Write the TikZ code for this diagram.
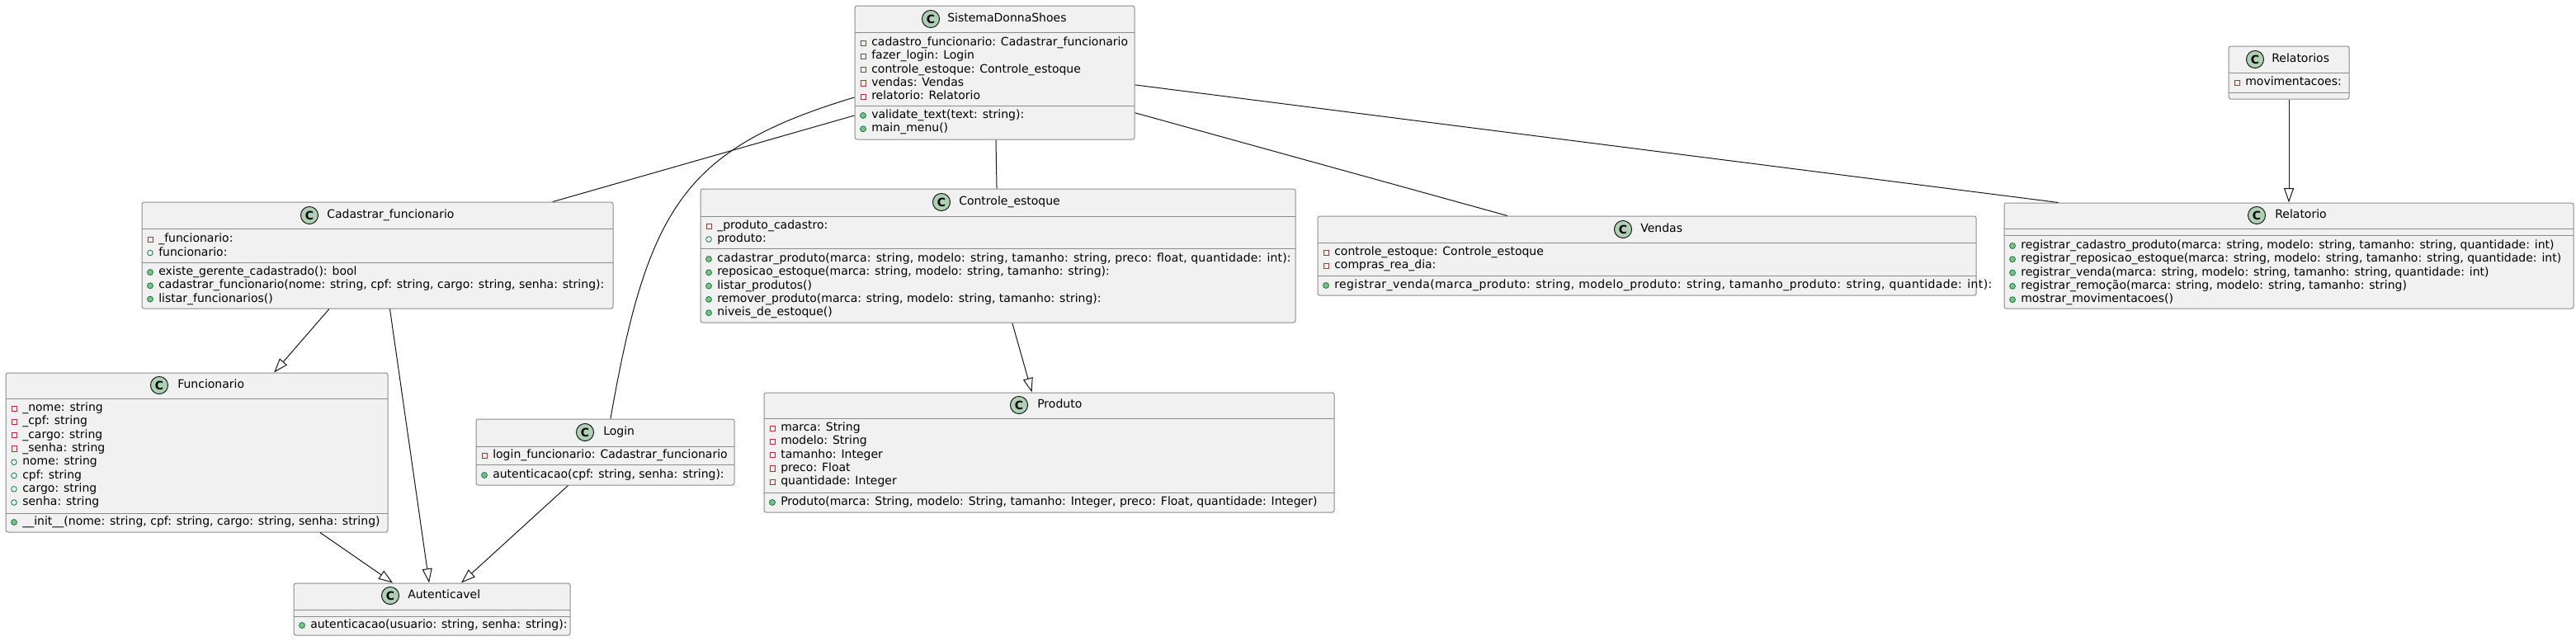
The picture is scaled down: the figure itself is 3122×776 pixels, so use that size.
\documentclass[tikz,border=0pt]{standalone}
\usepackage{fontspec}
\setmainfont{DejaVu Sans}
\usepackage{tikz}
\usetikzlibrary{arrows.meta,fit}

\definecolor{boxfill}{HTML}{F1F1F1}
\definecolor{boxline}{HTML}{8C8C8C}
\definecolor{wirecol}{HTML}{181818}
\definecolor{privred}{HTML}{C82930}
\definecolor{pubgreen}{HTML}{038048}
\definecolor{opgreen}{HTML}{84BE84}
\definecolor{iconfill}{HTML}{ADD1B2}

\begin{document}
\begin{tikzpicture}[x=0.75pt,y=-0.75pt,
  classbox/.style={draw=boxline,fill=boxfill,line width=0.75pt,rounded corners=2pt,inner sep=0pt},
  divider/.style={draw=boxline,line width=0.75pt},
  member/.style={anchor=west,inner sep=0pt,font=\fontsize{10.5pt}{12pt}\selectfont,text height=8pt,text depth=2.5pt},
  wire/.style={draw=wirecol,line width=0.75pt},
  inherit/.style={wire,-{Triangle[length=13pt,width=9pt,fill=white]}},
  pics/pvt/.style={code={\draw[privred,line width=0.6pt] (-2.3pt,-2.3pt) rectangle (2.3pt,2.3pt);}},
  pics/pubattr/.style={code={\draw[pubgreen,line width=0.6pt] (0,0) circle[radius=2.5pt];}},
  pics/pubop/.style={code={\draw[pubgreen,fill=opgreen,line width=0.6pt] (0,0) circle[radius=2.6pt];}},
  pics/cicon/.style={code={\draw[wirecol,fill=iconfill,line width=0.75pt] (0,0) circle[radius=7.9pt];
    \node[inner sep=0pt,font=\bfseries\fontsize{10.5pt}{12pt}\selectfont] (-c) {C};}}]
  \fill[white] (0,0) rectangle (3122,776);
  \useasboundingbox (0,0) rectangle (3122,776);

  % SistemaDonnaShoes
  \node[classbox,fit={(1036,7) (1375,169)}] (sistema) {};
  \pic (sistema-ic) at (1128,23) {cicon};
  \node[member] (sistema-t) at (1148,23) {SistemaDonnaShoes};
  \draw[divider] (1036,39) -- (1375,39);
  \draw[divider] (1036,128) -- (1375,128);
  \foreach \txt [count=\i] in {{cadastro\_funcionario: Cadastrar\_funcionario},{fazer\_login: Login},
      {controle\_estoque: Controle\_estoque},{vendas: Vendas},{relatorio: Relatorio}}
    {\pic at (1046,{52+16.3*(\i-1)}) {pvt};
     \node[member] (sistema-a\i) at (1056,{52+16.3*(\i-1)}) {\txt};}
  \foreach \txt [count=\i] in {{validate\_text(text: string):},{main\_menu()}}
    {\pic at (1046,{140+16.3*(\i-1)}) {pubop};
     \node[member] (sistema-m\i) at (1056,{140+16.3*(\i-1)}) {\txt};}

  % Relatorios
  \node[classbox,fit={(2701,56) (2847,120)}] (relatorios) {};
  \pic (relatorios-ic) at (2733,72) {cicon};
  \node[member] (relatorios-t) at (2753,72) {Relatorios};
  \draw[divider] (2701,88) -- (2847,88);
  \draw[divider] (2701,112) -- (2847,112);
  \pic at (2711,100) {pvt};
  \node[member] (relatorios-a1) at (2721,100) {movimentacoes:};

  % Relatorio
  \node[classbox,fit={(2429,246) (3119,374)}] (relatorio) {};
  \pic (relatorio-ic) at (2735,261) {cicon};
  \node[member] (relatorio-t) at (2757,261) {Relatorio};
  \draw[divider] (2429,277) -- (3119,277);
  \draw[divider] (2429,285) -- (3119,285);
  \foreach \txt [count=\i] in {{registrar\_cadastro\_produto(marca: string, modelo: string, tamanho: string, quantidade: int)},
      {registrar\_reposicao\_estoque(marca: string, modelo: string, tamanho: string, quantidade: int)},
      {registrar\_venda(marca: string, modelo: string, tamanho: string, quantidade: int)},
      {registrar\_remoção(marca: string, modelo: string, tamanho: string)},
      {mostrar\_movimentacoes()}}
    {\pic at (2439,{298+16.3*(\i-1)}) {pubop};
     \node[member] (relatorio-m\i) at (2449,{298+16.3*(\i-1)}) {\txt};}

  % Cadastrar_funcionario
  \node[classbox,fit={(172,245) (743,374)}] (cadastrar) {};
  \pic (cadastrar-ic) at (375,261) {cicon};
  \node[member] (cadastrar-t) at (396,261) {Cadastrar\_funcionario};
  \draw[divider] (172,277) -- (743,277);
  \draw[divider] (172,318) -- (743,318);
  \pic at (182,290) {pvt};
  \node[member] (cadastrar-a1) at (192,290) {\_funcionario:};
  \pic at (182,306.5) {pubattr};
  \node[member] (cadastrar-a2) at (192,306.5) {funcionario:};
  \foreach \txt [count=\i] in {{existe\_gerente\_cadastrado(): bool},
      {cadastrar\_funcionario(nome: string, cpf: string, cargo: string, senha: string):},
      {listar\_funcionarios()}}
    {\pic at (182,{330+16.3*(\i-1)}) {pubop};
     \node[member] (cadastrar-m\i) at (192,{330+16.3*(\i-1)}) {\txt};}

  % Controle_estoque
  \node[classbox,fit={(849,229) (1570,391)}] (controle) {};
  \pic (controle-ic) at (1141,245) {cicon};
  \node[member] (controle-t) at (1162,245) {Controle\_estoque};
  \draw[divider] (849,262) -- (1570,262);
  \draw[divider] (849,301) -- (1570,301);
  \pic at (859,274) {pvt};
  \node[member] (controle-a1) at (869,274) {\_produto\_cadastro:};
  \pic at (859,290) {pubattr};
  \node[member] (controle-a2) at (869,290) {produto:};
  \pic at (859,314) {pubop};
  \node[member] (controle-m1) at (869,314) {\addfontfeature{LetterSpace=1.2}cadastrar\_produto(marca: string, modelo: string, tamanho: string, preco: float, quantidade: int):};
  \foreach \txt [count=\i from 2] in {{reposicao\_estoque(marca: string, modelo: string, tamanho: string):},
      {listar\_produtos()},
      {remover\_produto(marca: string, modelo: string, tamanho: string):},
      {niveis\_de\_estoque()}}
    {\pic at (859,{314+16.3*(\i-1)}) {pubop};
     \node[member] (controle-m\i) at (869,{314+16.3*(\i-1)}) {\txt};}

  % Vendas
  \node[classbox,fit={(1597,262) (2395,358)}] (vendas) {};
  \pic (vendas-ic) at (1967,278) {cicon};
  \node[member] (vendas-t) at (1988,278) {Vendas};
  \draw[divider] (1597,294) -- (2395,294);
  \draw[divider] (1597,334) -- (2395,334);
  \pic at (1607,306) {pvt};
  \node[member] (vendas-a1) at (1617,306) {controle\_estoque: Controle\_estoque};
  \pic at (1607,322) {pvt};
  \node[member] (vendas-a2) at (1617,322) {compras\_rea\_dia:};
  \pic at (1607,346) {pubop};
  \node[member] (vendas-m1) at (1617,346) {\addfontfeature{LetterSpace=2.9}registrar\_venda(marca\_produto: string, modelo\_produto: string, tamanho\_produto: string, quantidade: int):};

  % Funcionario
  \node[classbox,fit={(7,452) (470,645)}] (funcionario) {};
  \pic (funcionario-ic) at (193,467) {cicon};
  \node[member] (funcionario-t) at (215,467) {Funcionario};
  \draw[divider] (7,483) -- (470,483);
  \draw[divider] (7,622) -- (470,622);
  \foreach \txt [count=\i] in {{\_nome: string},{\_cpf: string},{\_cargo: string},{\_senha: string}}
    {\pic at (17,{495+16.3*(\i-1)}) {pvt};
     \node[member] (funcionario-a\i) at (27,{495+16.3*(\i-1)}) {\txt};}
  \foreach \txt [count=\i] in {{nome: string},{cpf: string},{cargo: string},{senha: string}}
    {\pic at (17,{560.2+16.3*(\i-1)}) {pubattr};
     \node[member] (funcionario-b\i) at (27,{560.2+16.3*(\i-1)}) {\txt};}
  \pic at (17,633) {pubop};
  \node[member] (funcionario-m1) at (27,633) {\_\_init\_\_(nome: string, cpf: string, cargo: string, senha: string)};

  % Login
  \node[classbox,fit={(577,508) (890,588)}] (login) {};
  \pic (login-ic) at (709,524) {cicon};
  \node[member] (login-t) at (731,524) {Login};
  \draw[divider] (577,541) -- (890,541);
  \draw[divider] (577,563) -- (890,563);
  \pic at (587,552) {pvt};
  \node[member] (login-a1) at (597,552) {login\_funcionario: Cadastrar\_funcionario};
  \pic at (587,576) {pubop};
  \node[member] (login-m1) at (597,576) {autenticacao(cpf: string, senha: string):};

  % Produto
  \node[classbox,fit={(926,476) (1617,621)}] (produto) {};
  \pic (produto-ic) at (1235,491) {cicon};
  \node[member] (produto-t) at (1257,491) {Produto};
  \draw[divider] (926,507) -- (1617,507);
  \draw[divider] (926,597) -- (1617,597);
  \foreach \txt [count=\i] in {{marca: String},{modelo: String},{tamanho: Integer},{preco: Float},{quantidade: Integer}}
    {\pic at (936,{519+16.3*(\i-1)}) {pvt};
     \node[member] (produto-a\i) at (946,{519+16.3*(\i-1)}) {\txt};}
  \pic at (936,609) {pubop};
  \node[member] (produto-m1) at (946,609) {Produto(marca: String, modelo: String, tamanho: Integer, preco: Float, quantidade: Integer)};

  % Autenticavel
  \node[classbox,fit={(356,707) (691,770)}] (autenticavel) {};
  \pic (autenticavel-ic) at (473,722) {cicon};
  \node[member] (autenticavel-t) at (494,722) {Autenticavel};
  \draw[divider] (356,739) -- (691,739);
  \draw[divider] (356,747) -- (691,747);
  \pic at (366,758) {pubop};
  \node[member] (autenticavel-m1) at (376,758) {autenticacao(usuario: string, senha: string):};

  % associations
  \draw[wire] (sistema.197) -- (cadastrar.17);
  \draw[wire] (sistema.190) .. controls (830,180) and (785,250) .. (login.81);
  \draw[wire] (sistema) -- (controle);
  \draw[wire] (sistema.344) -- (vendas.164);
  \draw[wire] (sistema.355) -- (relatorio.167);

  % generalisations
  \draw[inherit] (relatorios.south) -- (relatorios.south |- relatorio.north);
  \draw[inherit] (controle.282) -- (produto.106);
  \draw[inherit] (cadastrar.228) -- (funcionario.46);
  \draw[inherit] (cadastrar.283) -- (autenticavel.96);
  \draw[inherit] (funcionario.327) -- (autenticavel.146);
  \draw[inherit] (login.222) -- (autenticavel.42);
\end{tikzpicture}
\end{document}
